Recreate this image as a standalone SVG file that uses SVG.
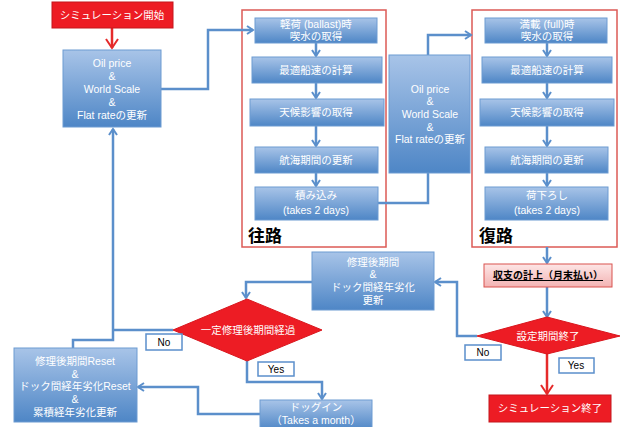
<svg xmlns="http://www.w3.org/2000/svg" width="622" height="427" viewBox="0 0 622 427">
<defs>
<linearGradient id="gb" x1="0" y1="0" x2="0" y2="1">
<stop offset="0" stop-color="#a8c4e8"/>
<stop offset="1" stop-color="#4e86c6"/>
</linearGradient>
<linearGradient id="gp" x1="0" y1="0" x2="0" y2="1">
<stop offset="0" stop-color="#fde6e6"/>
<stop offset="1" stop-color="#f3b3b3"/>
</linearGradient>
<marker id="ab" markerWidth="10" markerHeight="10" refX="7" refY="5" orient="auto" markerUnits="userSpaceOnUse">
<path d="M1,1 L7,5 L1,9" fill="none" stroke="#5b8fcb" stroke-width="2"/>
</marker>
<marker id="ar" markerWidth="14" markerHeight="14" refX="10" refY="7" orient="auto" markerUnits="userSpaceOnUse">
<path d="M1,1 L10,7 L1,13" fill="none" stroke="#e52a2a" stroke-width="2"/>
</marker>
<style>
text{font-family:"Liberation Sans","Noto Sans CJK JP",sans-serif;text-anchor:middle}
.bx{fill:url(#gb);stroke:#6d9bd2;stroke-width:1}
.bt{fill:#ffffff;font-size:10.5px}
.rx{fill:#ed1c24;stroke:#c4161d;stroke-width:1}
.rt{fill:#ffffff;font-size:10.5px}
.fr{fill:none;stroke:#dc5a55;stroke-width:1.5}
.fl{fill:#000;font-size:17px;font-weight:bold;text-anchor:start}
.c{fill:none;stroke:#5b8fcb;stroke-width:2.5}
.cr{fill:none;stroke:#e52a2a;stroke-width:2.5}
.lb{fill:#fff;stroke:#5b8fcb;stroke-width:1.5}
.lt{fill:#000;font-size:10px}
</style>
</defs>

<g id="frames">
<rect class="fr" x="242" y="10" width="144" height="237"/>
<text class="fl" x="248" y="242">往路</text>
<rect class="fr" x="472" y="10" width="145" height="237"/>
<text class="fl" x="479" y="242">復路</text>
</g>

<g id="connectors">
<path class="cr" d="M112,28 V48" marker-end="url(#ar)"/>
<path class="c" d="M161,89 H208 V30 H253" marker-end="url(#ab)"/>
<path class="c" d="M316,43 V56" marker-end="url(#ab)"/>
<path class="c" d="M316,83 V98" marker-end="url(#ab)"/>
<path class="c" d="M316,126 V146" marker-end="url(#ab)"/>
<path class="c" d="M316,173 V186" marker-end="url(#ab)"/>
<path class="c" d="M378,203 H428 V173"/>
<path class="c" d="M428,55 V35 H471" marker-end="url(#ab)"/>
<path class="c" d="M547,43 V56" marker-end="url(#ab)"/>
<path class="c" d="M547,83 V98" marker-end="url(#ab)"/>
<path class="c" d="M547,126 V146" marker-end="url(#ab)"/>
<path class="c" d="M547,173 V186" marker-end="url(#ab)"/>
<path class="c" d="M547,247 V263" marker-end="url(#ab)"/>
<path class="c" d="M547,287 V317" marker-end="url(#ab)"/>
<path class="cr" d="M547,353 V394" marker-end="url(#ar)"/>
<path class="c" d="M477,336 H457 V282 H435" marker-end="url(#ab)"/>
<path class="c" d="M312,282 H246 V298" marker-end="url(#ab)"/>
<path class="c" d="M173,330 H113"/>
<path class="c" d="M73,348 V340 H113 V129" marker-end="url(#ab)"/>
<path class="c" d="M247,361 V382 H322 V399" marker-end="url(#ab)"/>
<path class="c" d="M260,414 H198 V387 H138" marker-end="url(#ab)"/>
</g>

<g id="start">
<rect class="rx" x="52" y="2" width="121" height="26"/>
<text class="rt" x="112" y="19">シミュレーション開始</text>
</g>

<g id="oil1">
<rect class="bx" x="63" y="50" width="98" height="77"/>
<text class="bt" x="112" y="67">Oil price</text>
<text class="bt" x="112" y="80">&amp;</text>
<text class="bt" x="112" y="93">World Scale</text>
<text class="bt" x="112" y="106">&amp;</text>
<text class="bt" x="112" y="119">Flat rateの更新</text>
</g>

<g id="out1">
<rect class="bx" x="255" y="18" width="122" height="25"/>
<text class="bt" x="316" y="28">軽荷 (ballast)時</text>
<text class="bt" x="316" y="40">喫水の取得</text>
</g>
<g id="out2">
<rect class="bx" x="252" y="57" width="130" height="26"/>
<text class="bt" x="316" y="74">最適船速の計算</text>
</g>
<g id="out3">
<rect class="bx" x="250" y="99" width="134" height="27"/>
<text class="bt" x="316" y="116">天候影響の取得</text>
</g>
<g id="out4">
<rect class="bx" x="255" y="147" width="123" height="26"/>
<text class="bt" x="316" y="164">航海期間の更新</text>
</g>
<g id="out5">
<rect class="bx" x="255" y="187" width="123" height="33"/>
<text class="bt" x="316" y="199">積み込み</text>
<text class="bt" x="316" y="214">(takes 2 days)</text>
</g>

<g id="oil2">
<rect class="bx" x="389" y="55" width="81" height="118"/>
<text class="bt" x="430" y="93">Oil price</text>
<text class="bt" x="430" y="105">&amp;</text>
<text class="bt" x="430" y="118">World Scale</text>
<text class="bt" x="430" y="131">&amp;</text>
<text class="bt" x="430" y="143">Flat rateの更新</text>
</g>

<g id="ret1">
<rect class="bx" x="485" y="18" width="122" height="25"/>
<text class="bt" x="547" y="28">満載 (full)時</text>
<text class="bt" x="547" y="40">喫水の取得</text>
</g>
<g id="ret2">
<rect class="bx" x="482" y="57" width="130" height="26"/>
<text class="bt" x="547" y="74">最適船速の計算</text>
</g>
<g id="ret3">
<rect class="bx" x="480" y="99" width="134" height="27"/>
<text class="bt" x="547" y="116">天候影響の取得</text>
</g>
<g id="ret4">
<rect class="bx" x="485" y="147" width="123" height="26"/>
<text class="bt" x="547" y="164">航海期間の更新</text>
</g>
<g id="ret5">
<rect class="bx" x="485" y="187" width="123" height="33"/>
<text class="bt" x="547" y="199">荷下ろし</text>
<text class="bt" x="547" y="214">(takes 2 days)</text>
</g>

<g id="account">
<rect x="484" y="264" width="128" height="23" fill="url(#gp)" stroke="#d9534f" stroke-width="1"/>
<text x="548" y="279" font-size="10" font-weight="bold" fill="#000" text-decoration="underline">収支の計上（月末払い）</text>
</g>

<g id="endcheck">
<polygon points="547,317 620,336 547,354 477,336" fill="#ed1c24" stroke="#d9161d" stroke-width="1"/>
<text class="rt" x="548" y="340">設定期間終了</text>
</g>
<g id="no1">
<rect class="lb" x="465" y="345" width="36" height="15"/>
<text class="lt" x="483" y="356">No</text>
</g>
<g id="yes1">
<rect class="lb" x="559" y="358" width="35" height="15"/>
<text class="lt" x="576" y="369">Yes</text>
</g>

<g id="end">
<rect class="rx" x="489" y="395" width="122" height="27"/>
<text class="rt" x="550" y="412">シミュレーション終了</text>
</g>

<g id="repair">
<rect class="bx" x="312" y="252" width="122" height="58"/>
<text class="bt" x="373" y="266">修理後期間</text>
<text class="bt" x="373" y="278">&amp;</text>
<text class="bt" x="373" y="291">ドック間経年劣化</text>
<text class="bt" x="373" y="304">更新</text>
</g>

<g id="repaircheck">
<polygon points="247,299 322,330 247,361 173,330" fill="#ed1c24" stroke="#d9161d" stroke-width="1"/>
<text class="rt" x="248" y="334">一定修理後期間経過</text>
</g>
<g id="no2">
<rect class="lb" x="146" y="334" width="36" height="16"/>
<text class="lt" x="164" y="346">No</text>
</g>
<g id="yes2">
<rect class="lb" x="258" y="362" width="36" height="14"/>
<text class="lt" x="276" y="373">Yes</text>
</g>

<g id="dock">
<rect class="bx" x="260" y="400" width="112" height="30"/>
<text class="bt" x="316" y="411">ドッグイン</text>
<text class="bt" x="316" y="424">（Takes a month）</text>
</g>

<g id="reset">
<rect class="bx" x="14" y="348" width="123" height="74"/>
<text class="bt" x="75" y="365">修理後期間Reset</text>
<text class="bt" x="75" y="378">&amp;</text>
<text class="bt" x="75" y="390">ドック間経年劣化Reset</text>
<text class="bt" x="75" y="403">&amp;</text>
<text class="bt" x="75" y="416">累積経年劣化更新</text>
</g>
</svg>
